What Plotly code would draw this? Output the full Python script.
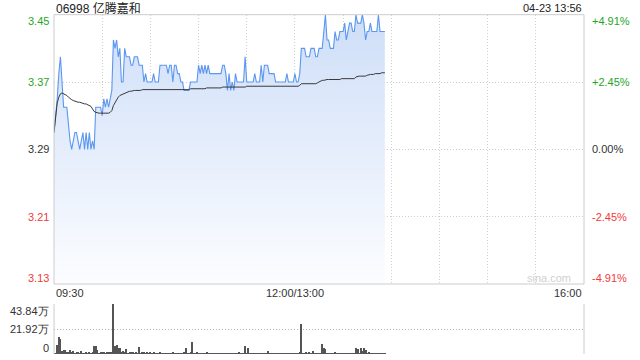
import plotly.graph_objects as go

# ---------------- data ----------------
title_text = "06998 亿腾嘉和"
stamp_text = "04-23 13:56"
x_labels = ["09:30", "12:00/13:00", "16:00"]
x_label_pos = [0, 150, 330]          # minutes from open (lunch removed)
session_minutes = 330

price = [
    3.31, 3.33, 3.35, 3.38, 3.40, 3.37, 3.34, 3.34, 3.34, 3.32,
    3.30, 3.29, 3.30, 3.31, 3.31, 3.30, 3.29, 3.30, 3.31, 3.29,
    3.31, 3.29, 3.31, 3.29, 3.30, 3.29, 3.34, 3.34, 3.34, 3.34,
    3.33, 3.35, 3.34, 3.35, 3.34, 3.35, 3.36, 3.42, 3.41, 3.42,
    3.40, 3.41, 3.37, 3.37, 3.41, 3.40, 3.40, 3.40, 3.39, 3.39,
    3.40, 3.40, 3.40, 3.39, 3.39, 3.39, 3.37, 3.38, 3.37, 3.37,
    3.37, 3.37, 3.38, 3.37, 3.37, 3.37, 3.39, 3.39, 3.39, 3.39,
    3.39, 3.38, 3.39, 3.39, 3.37, 3.39, 3.39, 3.38, 3.38, 3.37,
    3.37, 3.36, 3.36, 3.36, 3.36, 3.37, 3.37, 3.37, 3.37, 3.37,
    3.39, 3.38, 3.39, 3.38, 3.39, 3.38, 3.39, 3.38, 3.38, 3.38,
    3.38, 3.38, 3.38, 3.38, 3.38, 3.39, 3.39, 3.38, 3.36, 3.38,
    3.36, 3.37, 3.36, 3.38, 3.37, 3.37, 3.37, 3.37, 3.37, 3.40,
    3.37, 3.37, 3.37, 3.37, 3.37, 3.38, 3.37, 3.37, 3.37, 3.39,
    3.37, 3.39, 3.39, 3.39, 3.38, 3.38, 3.38, 3.38, 3.37, 3.37,
    3.37, 3.37, 3.37, 3.37, 3.37, 3.38, 3.37, 3.37, 3.37, 3.37,
    3.38, 3.37, 3.37, 3.38, 3.41, 3.41, 3.41, 3.40, 3.40, 3.40,
    3.41, 3.41, 3.41, 3.40, 3.40, 3.41, 3.41, 3.41, 3.43, 3.45,
    3.42, 3.42, 3.41, 3.41, 3.41, 3.43, 3.42, 3.42, 3.43, 3.43,
    3.43, 3.44, 3.42, 3.43, 3.44, 3.44, 3.43, 3.43, 3.45, 3.44,
    3.44, 3.44, 3.45, 3.44, 3.42, 3.43, 3.43, 3.44, 3.43, 3.43,
    3.43, 3.43, 3.45, 3.43, 3.43, 3.43, 3.43,
]

avg_price = [
    3.310, 3.330, 3.345, 3.352, 3.356, 3.357, 3.356, 3.355, 3.354, 3.352,
    3.350, 3.349, 3.348, 3.347, 3.347, 3.346, 3.346, 3.345, 3.345, 3.344,
    3.344, 3.343, 3.342, 3.341, 3.338, 3.335, 3.334, 3.333, 3.333, 3.333,
    3.333, 3.333, 3.333, 3.333, 3.333, 3.334, 3.336, 3.342, 3.346, 3.349,
    3.352, 3.354, 3.355, 3.356, 3.357, 3.358, 3.358, 3.359, 3.359, 3.360,
    3.360, 3.360, 3.360, 3.360, 3.360, 3.361, 3.361, 3.361, 3.361, 3.361,
    3.361, 3.361, 3.361, 3.361, 3.361, 3.361, 3.361, 3.361, 3.361, 3.361,
    3.361, 3.361, 3.361, 3.361, 3.361, 3.361, 3.361, 3.361, 3.361, 3.361,
    3.361, 3.361, 3.361, 3.361, 3.361, 3.362, 3.362, 3.362, 3.362, 3.362,
    3.362, 3.362, 3.362, 3.362, 3.362, 3.363, 3.363, 3.363, 3.363, 3.363,
    3.363, 3.363, 3.363, 3.363, 3.363, 3.364, 3.364, 3.364, 3.364, 3.364,
    3.364, 3.364, 3.364, 3.364, 3.364, 3.364, 3.364, 3.364, 3.364, 3.364,
    3.365, 3.365, 3.365, 3.365, 3.365, 3.365, 3.365, 3.365, 3.365, 3.365,
    3.365, 3.365, 3.365, 3.365, 3.365, 3.365, 3.365, 3.365, 3.365, 3.365,
    3.365, 3.365, 3.365, 3.365, 3.365, 3.365, 3.365, 3.365, 3.365, 3.365,
    3.365, 3.365, 3.365, 3.366, 3.368, 3.368, 3.368, 3.368, 3.368, 3.368,
    3.368, 3.368, 3.368, 3.368, 3.369, 3.370, 3.372, 3.372, 3.372, 3.373,
    3.373, 3.373, 3.373, 3.373, 3.373, 3.373, 3.373, 3.373, 3.373, 3.374,
    3.374, 3.374, 3.374, 3.374, 3.374, 3.374, 3.374, 3.374, 3.376, 3.377,
    3.377, 3.377, 3.377, 3.377, 3.377, 3.378, 3.379, 3.379, 3.379, 3.379,
    3.380, 3.380, 3.380, 3.380, 3.381, 3.381, 3.381,
]

volume_wan = [
    0.3, 0.8, 7.9, 14.6, 13.2, 3.0, 3.8, 3.8, 1.2, 2.0,
    3.5, 1.0, 2.6, 0.8, 0.9, 1.5, 0.6, 2.2, 0.7, 0.8,
    1.2, 0.6, 0.9, 0.5, 1.0, 7.0, 7.0, 3.5, 0.8, 1.5,
    0.9, 1.8, 0.7, 2.0, 0.9, 1.3, 1.8, 43.84, 6.7, 7.9,
    5.0, 5.0, 1.5, 2.6, 1.0, 4.4, 0.8, 2.0, 0.9, 1.2,
    0.7, 1.5, 0.6, 6.4, 0.8, 1.2, 2.0, 0.7, 1.0, 0.5,
    1.8, 0.6, 0.9, 0.5, 0.7, 0.6, 1.5, 0.8, 0.6, 0.7,
    0.5, 0.8, 0.6, 0.5, 0.9, 0.6, 0.5, 0.7, 0.6, 0.8,
    0.5, 1.2, 5.0, 0.6, 0.8, 1.5, 10.8, 0.7, 0.6, 0.9,
    0.8, 0.6, 0.7, 0.5, 0.6, 0.9, 0.5, 0.6, 0.5, 0.7,
    0.5, 0.6, 0.5, 0.5, 0.7, 0.6, 0.5, 0.8, 0.6, 0.5,
    0.6, 0.5, 0.7, 0.5, 0.6, 0.9, 0.5, 0.6, 0.8, 7.0,
    0.7, 5.3, 0.6, 0.5, 0.6, 0.8, 0.5, 0.6, 0.5, 0.6,
    0.5, 0.7, 0.6, 2.6, 0.5, 0.6, 0.5, 0.7, 0.6, 0.5,
    0.6, 0.5, 0.6, 0.5, 0.7, 0.6, 0.5, 0.6, 0.5, 0.7,
    0.8, 0.5, 0.6, 1.0, 26.3, 0.8, 0.6, 0.9, 0.5, 1.0,
    0.6, 2.3, 0.6, 0.7, 0.5, 0.6, 0.8, 8.8, 5.3, 4.4,
    0.6, 0.5, 0.7, 0.6, 0.5, 1.0, 0.6, 0.5, 0.7, 0.6,
    0.5, 0.8, 0.6, 0.5, 0.7, 0.6, 0.5, 0.6, 5.3, 4.4,
    0.8, 5.3, 2.9, 5.3, 3.8, 0.6, 0.9, 0.5, 0.7, 0.6,
    0.5, 0.8, 0.6, 0.5, 0.7, 0.6, 0.5,
]

price_ticks = [3.13, 3.21, 3.29, 3.37, 3.45]
price_tick_text = ["3.13", "3.21", "3.29", "3.37", "3.45"]
pct_tick_text = ["-4.91%", "-2.45%", "0.00%", "+2.45%", "+4.91%"]
vol_ticks = [0, 219200, 438400]
vol_tick_text = ["0", "21.92万", "43.84万"]

# ---------------- styles ----------------
W, H = 640, 360
L, R = 54, 584
P_TOP, P_BOT = 14.7, 284
V_TOP, V_BOT = 304, 354
GREEN, RED, DARK = "#1fa51f", "#f23a3a", "#333333"
FONT = "Liberation Sans, Arial, sans-serif"

minutes = list(range(len(price)))
avg_minutes = list(range(len(avg_price)))
vol_minutes = list(range(len(volume_wan)))
volume = [v * 10000 for v in volume_wan]

fig = go.Figure()
fig.add_trace(go.Scatter(
    x=minutes, y=price, mode="lines", xaxis="x", yaxis="y",
    line=dict(color="#5b97ee", width=1.1),
    fill="tozeroy",
    fillgradient=dict(type="vertical", start=price_ticks[0], stop=price_ticks[-1],
                      colorscale=[[0, "rgb(252,253,255)"], [1, "rgb(206,222,248)"]]),
    hoverinfo="skip",
))
fig.add_trace(go.Scatter(
    x=avg_minutes, y=avg_price, mode="lines", xaxis="x", yaxis="y",
    line=dict(color="#3a3a3a", width=1), hoverinfo="skip",
))
fig.add_trace(go.Bar(
    x=vol_minutes, y=volume, xaxis="x2", yaxis="y2", width=0.6,
    marker=dict(color="#555555", line=dict(width=0)), hoverinfo="skip",
))

dom_x = [L / W, R / W]
grid_kw = dict(showgrid=True, gridcolor="#cfcfcf", griddash="1px,2px", gridwidth=1,
               zeroline=False, showline=False, showticklabels=False, ticks="")
fig.update_layout(
    width=W, height=H, margin=dict(l=0, r=0, t=0, b=0),
    paper_bgcolor="white", plot_bgcolor="white", showlegend=False,
    font=dict(family=FONT, size=11, color=DARK),
    xaxis=dict(domain=dom_x, range=[0, session_minutes], anchor="y",
               tickvals=list(range(0, session_minutes + 1, 30)), **grid_kw),
    yaxis=dict(domain=[1 - P_BOT / H, 1 - P_TOP / H], range=[price_ticks[0], price_ticks[-1]],
               anchor="x", tickvals=price_ticks, **grid_kw),
    xaxis2=dict(domain=dom_x, range=[0, session_minutes], anchor="y2",
                showgrid=False, zeroline=False, showline=False, showticklabels=False),
    yaxis2=dict(domain=[1 - V_BOT / H, 1 - V_TOP / H], range=[vol_ticks[0], vol_ticks[-1]],
                anchor="x2", tickvals=vol_ticks,
                **{**grid_kw, "gridcolor": "#b5b5b5"}),
    bargap=0,
)

# borders
fig.add_shape(type="rect", xref="x domain", yref="y domain", x0=0, x1=1, y0=0, y1=1,
              line=dict(color="#cccccc", width=1), layer="above")
for xv in (0, 1):
    fig.add_shape(type="line", xref="x2 domain", yref="y2 domain", x0=xv, x1=xv, y0=0, y1=1,
                  line=dict(color="#cccccc", width=1), layer="above")

ann = []
colors = [RED, RED, DARK, GREEN, GREEN]
shifts = [6, 0, 0, 0, -6]
for v, t, p, c, s in zip(price_ticks, price_tick_text, pct_tick_text, colors, shifts):
    ann.append(dict(x=(L - 3) / W, xref="paper", xanchor="right", y=v, yref="y", yshift=s,
                    yanchor="middle", text=t, showarrow=False, font=dict(color=c, size=11)))
    ann.append(dict(x=(R + 6) / W, xref="paper", xanchor="left", y=v, yref="y", yshift=s,
                    yanchor="middle", text=p, showarrow=False, font=dict(color=c, size=11)))
vshifts = [6, 0, -7]
for v, t, s in zip(vol_ticks, vol_tick_text, vshifts):
    ann.append(dict(x=(L - 3) / W, xref="paper", xanchor="right", y=v, yref="y2", yshift=s,
                    yanchor="middle", text=t, showarrow=False, font=dict(color=DARK, size=11)))
anchors = ["left", "center", "right"]
for pos, t, a in zip(x_label_pos, x_labels, anchors):
    ann.append(dict(x=pos, xref="x", xanchor=a, y=1 - 293 / H, yref="paper", yanchor="middle",
                    text=t, showarrow=False, font=dict(color=DARK, size=11)))
ann.append(dict(x=L / W, xref="paper", xanchor="left", y=1 - 8 / H, yref="paper", yanchor="middle",
                text=title_text, showarrow=False,
                font=dict(color="#222222", size=12, family="Liberation Sans, Noto Sans CJK SC")))
ann.append(dict(x=R / W, xref="paper", xanchor="right", y=1 - 8 / H, yref="paper", yanchor="middle",
                text=stamp_text, showarrow=False, font=dict(color="#222222", size=11)))
ann.append(dict(x=573 / W, xref="paper", xanchor="right", y=1 - 278 / H, yref="paper",
                yanchor="middle", text="sina.com", showarrow=False,
                font=dict(color="#d0d0d0", size=11)))
fig.update_layout(annotations=ann)

fig.write_html("out.html")
